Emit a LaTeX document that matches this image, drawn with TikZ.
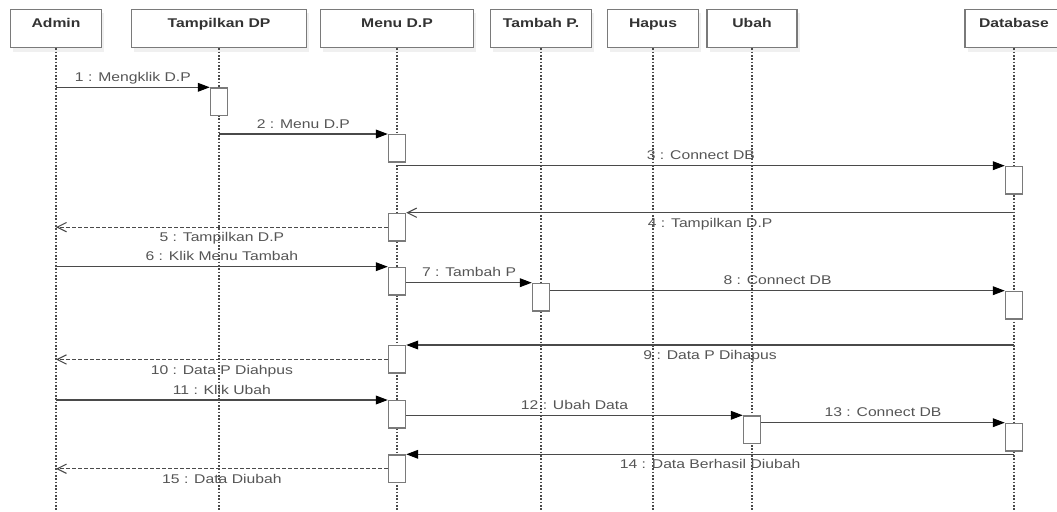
\documentclass[tikz,border=0pt]{standalone}
\usepackage{fontspec}
\setmainfont[FakeStretch=1.24]{Liberation Sans}
\usepackage{tikz}
\usetikzlibrary{positioning, arrows.meta, shadows}

\definecolor{lineclr}{HTML}{4A4A4A}
\definecolor{boxclr}{HTML}{7A7A7A}
\definecolor{txtclr}{HTML}{555555}

\begin{document}
\begin{tikzpicture}[x=0.75pt, y=-0.75pt,
    font=\fontsize{9.5}{11}\selectfont,
    head/.style={draw=boxclr, line width=1pt, fill=white, inner sep=0pt,
        minimum height=28.8pt, text height=13.4pt, text depth=15.4pt,
        font=\fontsize{9.5}{11}\selectfont\bfseries, text=black!80,
        drop shadow={shadow xshift=2pt, shadow yshift=-3pt, fill=black!6, opacity=1}},
    act/.style={draw=boxclr, line width=1.1pt, fill=white, inner sep=0pt, anchor=north,
        minimum width=12.75pt, minimum height=20.6pt},
    life/.style={lineclr, line width=1pt, dash pattern=on 1.2pt off 1.3pt},
    call/.style={lineclr, line width=0.8pt, -{Triangle[length=9pt, width=6.6pt, black]}},
    back/.style={lineclr, line width=0.8pt, -{Straight Barb[length=7pt, width=7pt]}},
    ret/.style={back, dash pattern=on 2.5pt off 2pt},
    up/.style={midway, above, inner sep=2pt, text=txtclr, text height=7pt, text depth=2pt},
    down/.style={midway, below, inner sep=3.5pt, text=txtclr, text height=7pt, text depth=2pt}]

    \useasboundingbox (0,0) rectangle (1057,511);

    % Objects
    \node[head, minimum width=68.25pt]  (admin)  at (56,28.5)   {Admin};
    \node[head, minimum width=131.25pt] (tampil) at (219,28.5)  {Tampilkan DP};
    \node[head, minimum width=114.75pt] (menu)   at (397,28.5)  {Menu D.P};
    \node[head, minimum width=75.75pt]  (tambah) at (541,28.5)  {Tambah P.};
    \node[head, minimum width=68.25pt]  (hapus)  at (653,28.5)  {Hapus};
    \node[head, minimum width=67.5pt]   (ubah)   at (752,28.5)  {Ubah};
    \node[head, minimum width=73.5pt]   (db)     at (1014,28.5) {Database};

    % Lifelines
    \coordinate (end) at (0,510);
    \foreach \obj in {admin, tampil, menu, tambah, hapus, ubah, db}
        \draw [life] (\obj.south) -- (\obj.south |- end);

    % Activations
    \node[act] (aT1) at (219,87.3)  {};
    \node[act] (aM1) at (397,134)   {};
    \node[act] (aD1) at (1014,165.7) {};
    \node[act] (aM2) at (397,212.7) {};
    \node[act] (aM3) at (397,266.7) {};
    \node[act] (aTb) at (541,282.7) {};
    \node[act] (aD2) at (1014,290.7) {};
    \node[act] (aM4) at (397,345)   {};
    \node[act] (aM5) at (397,400)   {};
    \node[act] (aU)  at (752,415.3) {};
    \node[act] (aD3) at (1014,422.7) {};
    \node[act] (aM6) at (397,454.3) {};

    % Show data
    \draw [call] (admin.south |- aT1.north) -- node[up] {1 : Mengklik D.P} (aT1.north west);
    \draw [call] (tampil.south |- aM1.north) -- node[up] {2 : Menu D.P} (aM1.north west);
    \draw [call] (aM1.south |- aD1.north) -- node[up] {3 : Connect DB} (aD1.north west);
    \draw [back] (db.south |- aM2.north) -- node[down] {4 : Tampilkan D.P} (aM2.north east);
    \draw [ret] (aM2.west) -- node[down] {5 : Tampilkan D.P} (admin.south |- aM2.west);

    % Add
    \draw [call] (admin.south |- aM3.north) -- node[up] {6 : Klik Menu Tambah} (aM3.north west);
    \draw [call] (aM3.east |- aTb.north) -- node[up] {7 : Tambah P} (aTb.north west);
    \draw [call] (aTb.east |- aD2.north) -- node[up] {8 : Connect DB} (aD2.north west);
    \draw [call] (db.south |- aM4.north) -- node[down] {9 : Data P Dihapus} (aM4.north east);
    \draw [ret] (aM4.west) -- node[down] {10 : Data P Diahpus} (admin.south |- aM4.west);

    % Edit
    \draw [call] (admin.south |- aM5.north) -- node[up] {11 : Klik Ubah} (aM5.north west);
    \draw [call] (aM5.east |- aU.north) -- node[up] {12 : Ubah Data} (aU.north west);
    \draw [call] (aU.east |- aD3.north) -- node[up] {13 : Connect DB} (aD3.north west);
    \draw [call] (db.south |- aM6.north) -- node[down] {14 : Data Berhasil Diubah} (aM6.north east);
    \draw [ret] (aM6.west) -- node[down] {15 : Data Diubah} (admin.south |- aM6.west);

\end{tikzpicture}
\end{document}
